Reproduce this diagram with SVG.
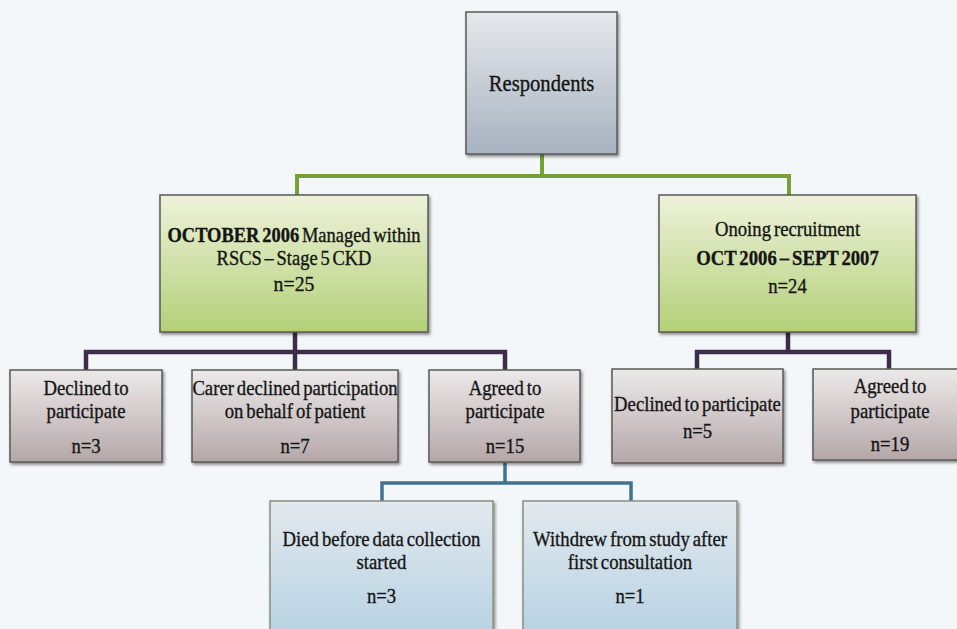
<svg xmlns="http://www.w3.org/2000/svg" width="957" height="629" viewBox="0 0 957 629">
  <defs>
    <linearGradient id="gGray" x1="0" y1="0" x2="0" y2="1">
      <stop offset="0" stop-color="#e6e9ec"/>
      <stop offset="1" stop-color="#a7b2c0"/>
    </linearGradient>
    <linearGradient id="gGreen" x1="0" y1="0" x2="0" y2="1">
      <stop offset="0" stop-color="#eef2da"/>
      <stop offset="1" stop-color="#b3d078"/>
    </linearGradient>
    <linearGradient id="gMauve" x1="0" y1="0" x2="0" y2="1">
      <stop offset="0" stop-color="#ece9ea"/>
      <stop offset="1" stop-color="#b5a7a8"/>
    </linearGradient>
    <linearGradient id="gBlue" x1="0" y1="0" x2="0" y2="1">
      <stop offset="0" stop-color="#e2e9ee"/>
      <stop offset="1" stop-color="#b5d1e2"/>
    </linearGradient>
    <filter id="sh" x="-10%" y="-10%" width="130%" height="130%">
      <feDropShadow dx="1.5" dy="2" stdDeviation="1.5" flood-color="#000" flood-opacity="0.45"/>
    </filter>
  </defs>
  <style>
    .box { stroke: #5a5a55; stroke-width: 1.5; filter: url(#sh); }
    .gray { fill: url(#gGray); }
    .green { fill: url(#gGreen); }
    .mauve { fill: url(#gMauve); }
    .blue { fill: url(#gBlue); stroke: #8a8f80; }
    text { font-family: "Liberation Serif", "Times New Roman", serif; font-size: 22px; fill: #151515; stroke: #151515; stroke-width: 0.35; text-anchor: middle; word-spacing: -2px; }
    .b { font-weight: bold; }
    .big { font-size: 24px; }
    .sm { font-size: 20.5px; }
    .cg { fill: none; stroke: #76a03a; stroke-width: 4; }
    .cp { fill: none; stroke: #3c2d48; stroke-width: 4.5; }
    .cb { fill: none; stroke: #3f7391; stroke-width: 3.5; }
  </style>
  <rect width="957" height="629" fill="#f4f7f9"/>

  <g id="connectors">
    <path class="cg" d="M542 154 V176 M297 196 V176 H789 V196"/>
    <path class="cp" d="M295 332 V371 M86 371 V352 H505 V371"/>
    <path class="cp" d="M788 332 V352 M697 370 V352 H889 V370"/>
    <path class="cb" d="M505 463 V483 M382 502 V483 H631 V502"/>
  </g>

  <g id="respondents">
    <rect class="box gray" x="466" y="12" width="151" height="142"/>
    <g transform="translate(541.5 0) scale(0.86 1)">
      <text class="big" x="0" y="91">Respondents</text>
    </g>
  </g>

  <g id="october2006">
    <rect class="box green" x="160" y="195" width="268" height="137"/>
    <g transform="translate(294 0) scale(0.9 1)">
      <text class="sm" x="0" y="242"><tspan class="b">OCTOBER 2006</tspan> Managed within</text>
      <text class="sm" x="0" y="265.5">RSCS – Stage 5 CKD</text>
      <text x="0" y="291">n=25</text>
    </g>
  </g>

  <g id="ongoing">
    <rect class="box green" x="659" y="195" width="257" height="137"/>
    <g transform="translate(787.5 0) scale(0.85 1)">
      <text x="0" y="236">Onoing recruitment</text>
      <text class="b" x="0" y="265">OCT 2006 – SEPT 2007</text>
      <text x="0" y="293">n=24</text>
    </g>
  </g>

  <g id="declined1">
    <rect class="box mauve" x="10" y="370" width="152" height="92"/>
    <g transform="translate(86 0) scale(0.85 1)">
      <text x="0" y="395">Declined to</text>
      <text x="0" y="418">participate</text>
      <text x="0" y="453">n=3</text>
    </g>
  </g>

  <g id="carer">
    <rect class="box mauve" x="192" y="370" width="206" height="92"/>
    <g transform="translate(295 0) scale(0.85 1)">
      <text x="0" y="395">Carer declined participation</text>
      <text x="0" y="418">on behalf of patient</text>
      <text x="0" y="453">n=7</text>
    </g>
  </g>

  <g id="agreed1">
    <rect class="box mauve" x="429" y="370" width="151" height="92"/>
    <g transform="translate(505 0) scale(0.85 1)">
      <text x="0" y="395">Agreed to</text>
      <text x="0" y="418">participate</text>
      <text x="0" y="453">n=15</text>
    </g>
  </g>

  <g id="declined2">
    <rect class="box mauve" x="612" y="369" width="171" height="94"/>
    <g transform="translate(697.5 0) scale(0.85 1)">
      <text x="0" y="411">Declined to participate</text>
      <text x="0" y="438">n=5</text>
    </g>
  </g>

  <g id="agreed2">
    <rect class="box mauve" x="813" y="369" width="155" height="91"/>
    <g transform="translate(890 0) scale(0.85 1)">
      <text x="0" y="393">Agreed to</text>
      <text x="0" y="418">participate</text>
      <text x="0" y="451">n=19</text>
    </g>
  </g>

  <g id="died">
    <rect class="box blue" x="270" y="501" width="223" height="140"/>
    <g transform="translate(381.5 0) scale(0.85 1)">
      <text x="0" y="546">Died before data collection</text>
      <text x="0" y="569">started</text>
      <text x="0" y="603">n=3</text>
    </g>
  </g>

  <g id="withdrew">
    <rect class="box blue" x="523" y="501" width="214" height="140"/>
    <g transform="translate(630 0) scale(0.85 1)">
      <text x="0" y="546">Withdrew from study after</text>
      <text x="0" y="569">first consultation</text>
      <text x="0" y="603">n=1</text>
    </g>
  </g>
</svg>
